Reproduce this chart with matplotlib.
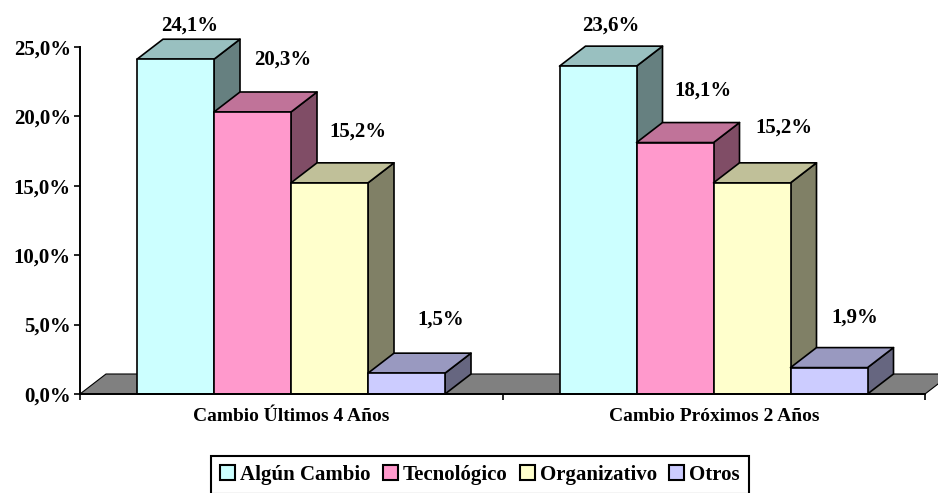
import matplotlib
matplotlib.use('Agg')
import matplotlib.pyplot as plt
from matplotlib.patches import Patch, Polygon

# Data
grupos = ['Cambio Últimos 4 Años', 'Cambio Próximos 2 Años']
series = ['Algún Cambio', 'Tecnológico', 'Organizativo', 'Otros']
ultimos_4 = [24.1, 20.3, 15.2, 1.5]
proximos_2 = [23.6, 18.1, 15.2, 1.9]
y_ticks = [0, 5, 10, 15, 20, 25]
y_labels = ['0,0%', '5,0%', '10,0%', '15,0%', '20,0%', '25,0%']

# Style
colores = ['#CCFFFF', '#FF99CC', '#FFFFCC', '#CCCCFF']
colores_top = ['#99C0C0', '#C07399', '#C0C099', '#9999C0']
colores_lado = ['#668080', '#804D66', '#808066', '#666680']
# label offsets from the bar's front-top centre, in pixels
offsets = [[(14, 34), (30, 52), (28, 51), (34, 54)],
           [(13, 41), (28, 52), (32, 55), (26, 50)]]

plt.rcParams['font.family'] = ['Liberation Serif', 'DejaVu Serif']
plt.rcParams['font.weight'] = 'bold'
FS = 15
LW = 1.2

W, H = 938, 493
fig = plt.figure(figsize=(W / 100, H / 100), dpi=100)
ax = fig.add_axes([80 / W, 1 - 394 / H, 845 / W, (394 - 46.7) / H])
ax.set_xlim(0, 2)
ax.set_ylim(0, 25)

# 3D depth in data units (26 px right, 20 px up)
dx = 26 / 422.5
dy = 20 / (347.3 / 25)
ancho = 77 / 422.5
margen = 57 / 422.5


def poligono(puntos, color, z):
    ax.add_patch(Polygon(puntos, closed=True, facecolor=color, edgecolor='black',
                         linewidth=LW, joinstyle='round', clip_on=False, zorder=z))


# floor
ax.add_patch(Polygon([(0, 0), (2, 0), (2 + dx, dy), (dx, dy)], closed=True,
                     facecolor='#808080', edgecolor='black', linewidth=0.8,
                     clip_on=False, zorder=1))

z = 2
for g, valores in enumerate([ultimos_4, proximos_2]):
    for s, v in enumerate(valores):
        x0 = g + margen + s * ancho
        x1 = x0 + ancho
        poligono([(x1, 0), (x1 + dx, dy), (x1 + dx, v + dy), (x1, v)], colores_lado[s], z)
        poligono([(x0, v), (x1, v), (x1 + dx, v + dy), (x0 + dx, v + dy)], colores_top[s], z)
        poligono([(x0, 0), (x1, 0), (x1, v), (x0, v)], colores[s], z)
        z += 1
        ax.annotate(f'{v:.1f}%'.replace('.', ','), xy=(x0 + ancho / 2, v),
                    xytext=offsets[g][s], textcoords='offset pixels',
                    ha='center', va='center', fontsize=FS, fontweight='bold',
                    annotation_clip=False, zorder=50)

for lado in ['top', 'right']:
    ax.spines[lado].set_visible(False)
for lado in ['left', 'bottom']:
    ax.spines[lado].set_linewidth(LW + 0.2)
    ax.spines[lado].set_zorder(40)

ax.set_yticks(y_ticks)
ax.set_yticklabels(y_labels, fontsize=FS, fontweight='bold')
ax.set_xticks([0, 1, 2])
ax.set_xticklabels(['', '', ''])
ax.set_xticks([0.5, 1.5], minor=True)
ax.set_xticklabels(grupos, minor=True, fontsize=FS - 1, fontweight='bold')
ax.tick_params(axis='x', which='minor', length=0, pad=10)
ax.tick_params(axis='both', which='major', length=4.5, width=LW, pad=2)

handles = [Patch(facecolor=c, edgecolor='black', linewidth=LW + 0.3) for c in colores]
leg = fig.legend(handles, series, loc='center', bbox_to_anchor=(480 / W, 1 - 475 / H),
                 ncol=4, fontsize=FS, frameon=True, fancybox=False, edgecolor='black',
                 framealpha=1, handlelength=0.7, handleheight=0.7, handletextpad=0.25,
                 columnspacing=0.6, borderpad=0.45, borderaxespad=0)
leg.get_frame().set_linewidth(LW + 0.3)

fig.savefig('out.png', dpi=100)
